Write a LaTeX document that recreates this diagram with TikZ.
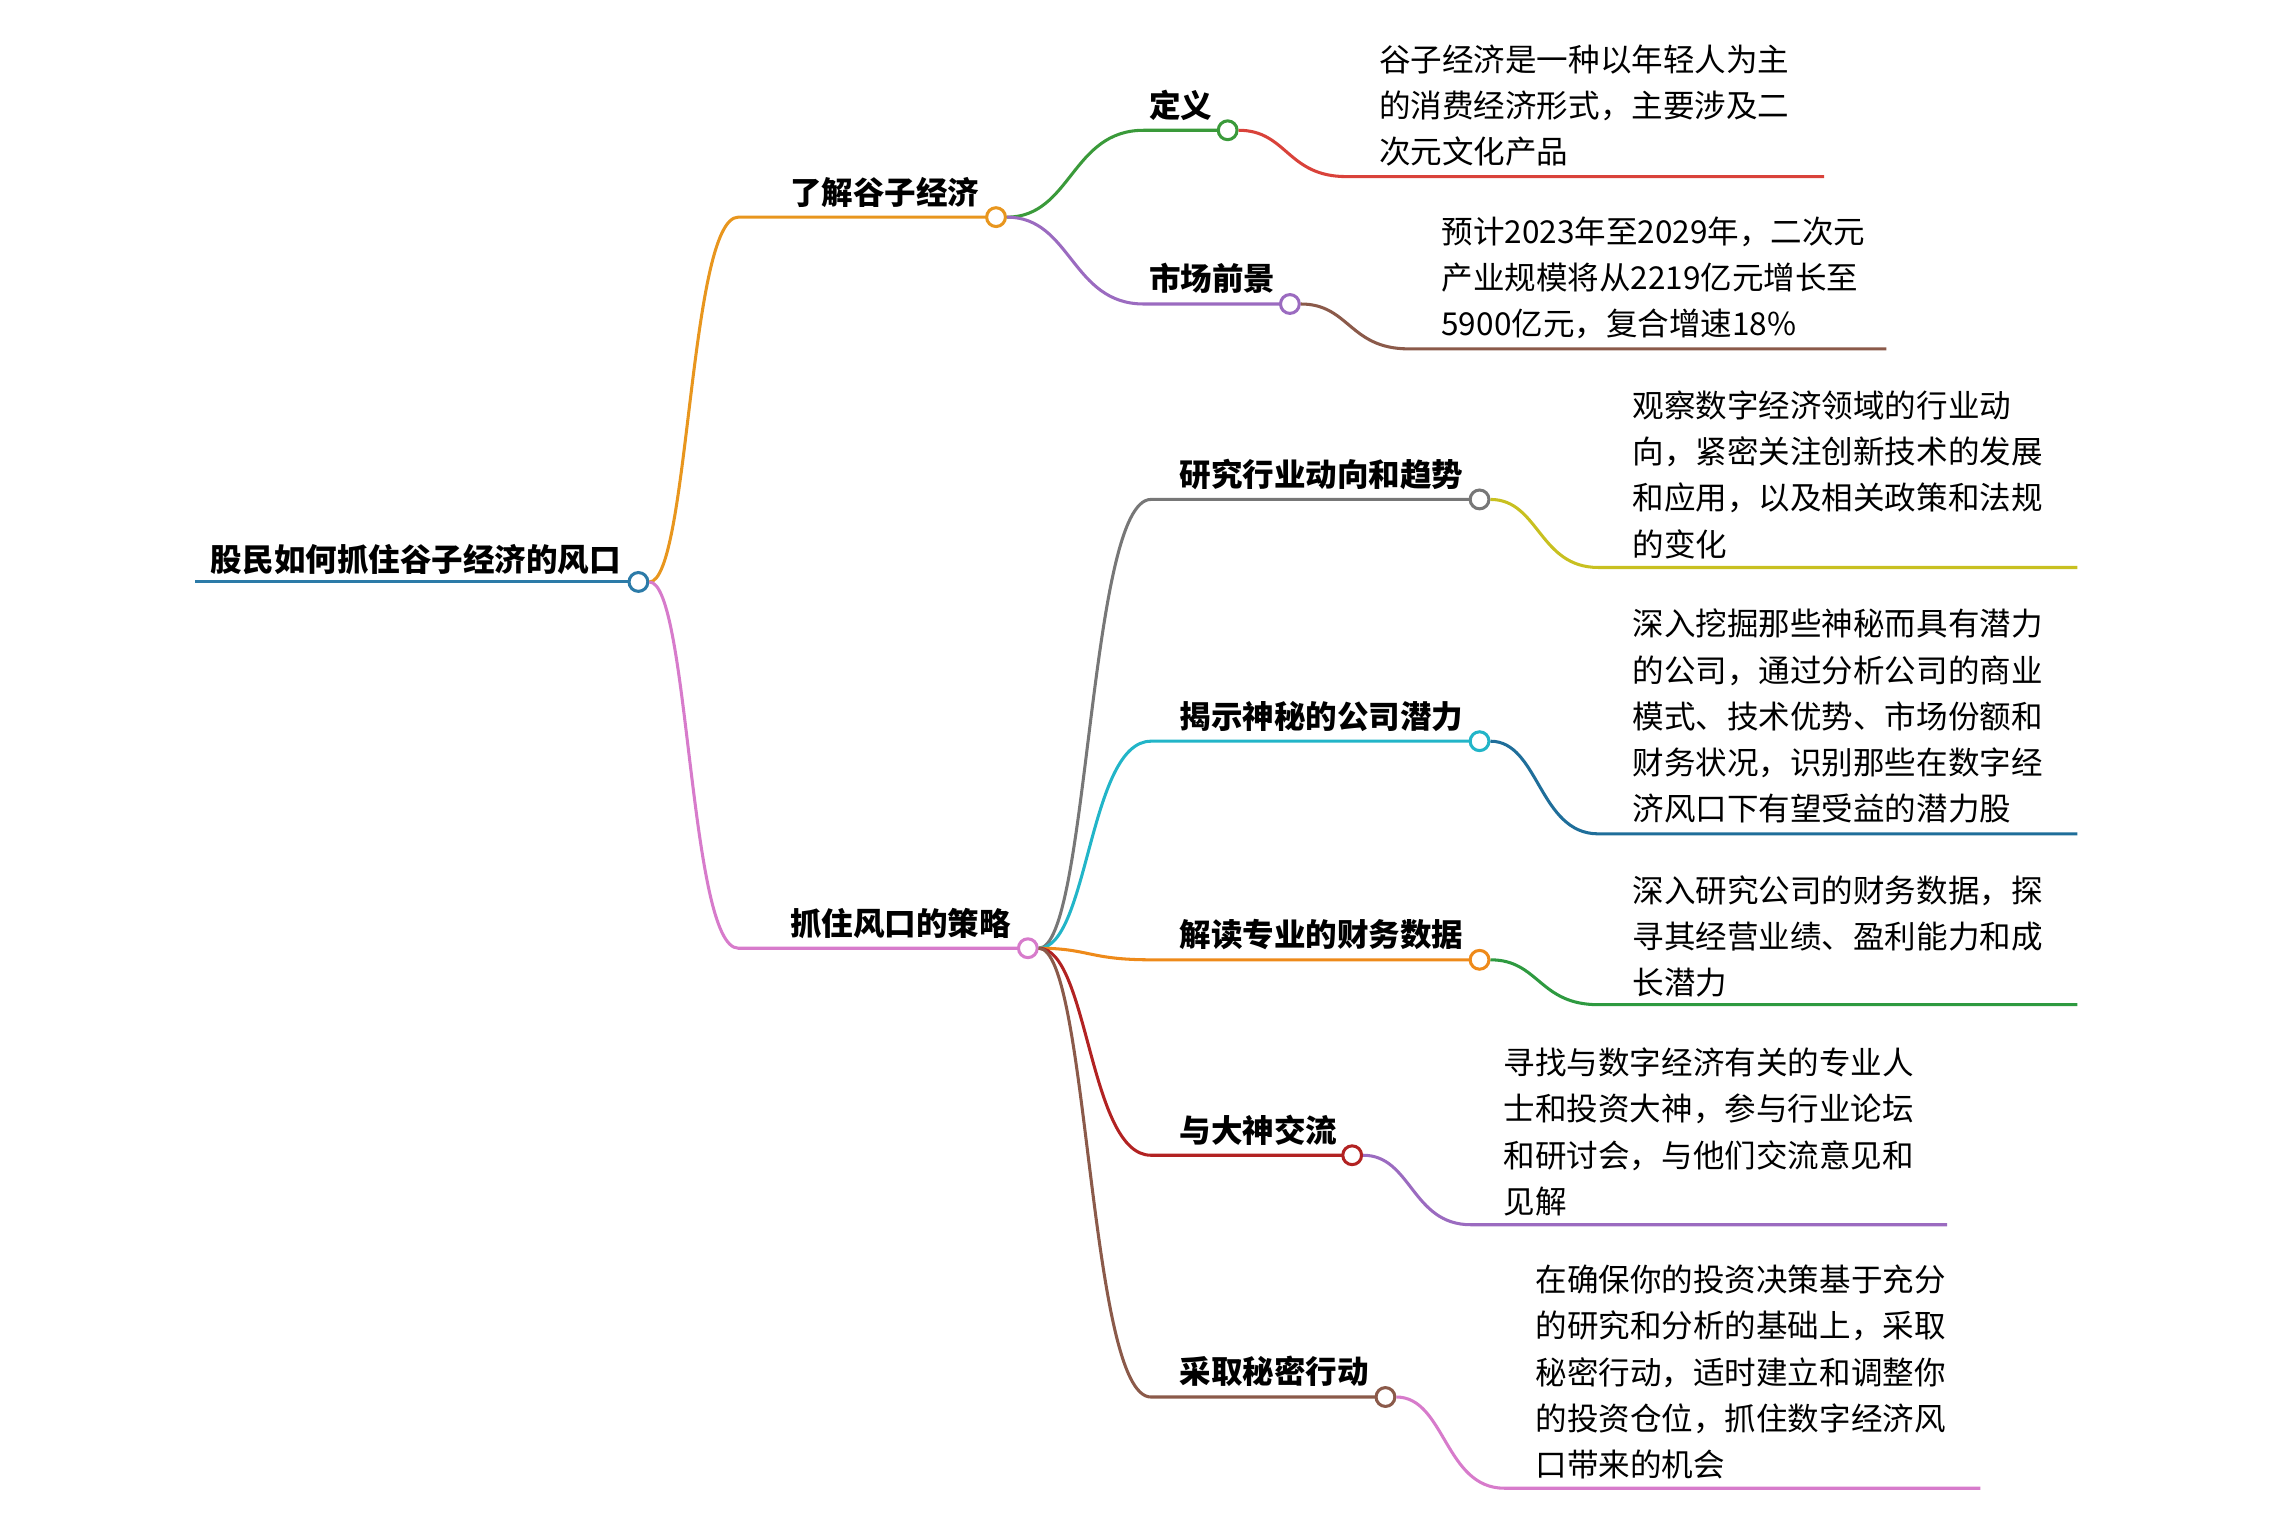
\documentclass[tikz,border=0pt]{standalone}
\usepackage{fontspec}
\setmainfont{Noto Sans CJK SC}
\begin{document}
\begin{tikzpicture}[x=0.1mm,y=-0.1mm,
  lw/.style={line width=0.6pt},
  dot/.style={circle,draw,fill=white,line width=0.6pt,inner sep=0,minimum size=1.3mm},
  lab/.style={font=\bfseries\fontsize{6.2}{7}\selectfont,inner sep=0,anchor=base west},
  leaf/.style={font=\fontsize{6.2}{9.1}\selectfont,inner sep=0,anchor=north west,align=left}]
\useasboundingbox (0,0) rectangle (1568,1054);
\definecolor{cOr}{HTML}{E8961E}\definecolor{cPk}{HTML}{D77BCB}\definecolor{cBl}{HTML}{2C7BA8}
\definecolor{cGr}{HTML}{3A9A3A}\definecolor{cRd}{HTML}{D9423A}\definecolor{cPu}{HTML}{9B6BC0}
\definecolor{cBr}{HTML}{8B5A4A}\definecolor{cGy}{HTML}{777777}\definecolor{cYl}{HTML}{C8C020}
\definecolor{cCy}{HTML}{22B5C8}\definecolor{cTe}{HTML}{1F6E9A}\definecolor{cDr}{HTML}{B22222}
\definecolor{cOr2}{HTML}{EE8A1A}\definecolor{cGr2}{HTML}{2E9A40}
% root
\node[lab] (rt) at (145,395) {股民如何抓住谷子经济的风口};
\draw[lw,cBl] (135,402) -- (441,402);
\node[dot,draw=cBl] (r) at (441,402) {};
% branch 1
\coordinate (b1s) at (510,150);
\draw[lw,cOr] (r) .. controls (476,402) and (476,150) .. (b1s) -- (688,150);
\node[lab] (b1t) at (545,141) {了解谷子经济};
\node[dot,draw=cOr] (b1) at (688,150) {};
% branch 2
\coordinate (b2s) at (510,655);
\draw[lw,cPk] (r) .. controls (476,402) and (476,655) .. (b2s) -- (710,655);
\node[lab] (b2t) at (545,646) {抓住风口的策略};
\node[dot,draw=cPk] (b2) at (710,655) {};
% generic sub
\newcommand\subn[9]{% name, parent, px, py, y, xend, color, label, labelx
  \coordinate (#1s) at (795,#5);
  \draw[lw,#7] (#2) .. controls (752,#4) and (752,#5) .. (#1s) -- (#6,#5);
  \node[lab] (#1t) at (#9,#5-9) {#8};
  \node[dot,draw=#7] (#1) at (#6,#5) {};}
\newcommand\leafn[8]{% name, parent, px, py, uy, xe, color, textx ; text after
  \coordinate (#1a) at (#3+82,#5);
  \coordinate (#1b) at (#6,#5);
  \draw[lw,#7] (#2) .. controls (#3+41,#4) and (#3+41,#5) .. (#1a) -- (#1b);}
% b1 subs
\coordinate (s1s) at (790,90);
\draw[lw,cGr] (b1) .. controls (740,150) and (740,90) .. (s1s) -- (848,90);
\node[lab] (s1t) at (793,81) {定义};
\node[dot,draw=cGr] (s1) at (848,90) {};
\coordinate (s2s) at (790,210);
\draw[lw,cPu] (b1) .. controls (740,150) and (740,210) .. (s2s) -- (891,210);
\node[lab] (s2t) at (793,201) {市场前景};
\node[dot,draw=cPu] (s2) at (891,210) {};
% b2 subs
\subn{t1}{b2}{710}{655}{345}{1022}{cGy}{研究行业动向和趋势}{814}
\subn{t2}{b2}{710}{655}{512}{1022}{cCy}{揭示神秘的公司潜力}{814}
\subn{t3}{b2}{710}{655}{663}{1022}{cOr2}{解读专业的财务数据}{814}
\subn{t4}{b2}{710}{655}{798}{934}{cDr}{与大神交流}{814}
\subn{t5}{b2}{710}{655}{965}{957}{cBr}{采取秘密行动}{814}
% leaves
\leafn{l1}{s1}{848}{90}{122}{1260}{cRd}{}
\node[leaf] (l1x) at (952,30) {谷子经济是一种以年轻人为主\\的消费经济形式，主要涉及二\\次元文化产品};
\leafn{l2}{s2}{891}{210}{241}{1303}{cBr}{}
\node[leaf] (l2x) at (995,149) {预计2023年至2029年，二次元\\产业规模将从2219亿元增长至\\5900亿元，复合增速18\%};
\leafn{l3}{t1}{1022}{345}{392}{1435}{cYl}{}
\node[leaf] (l3x) at (1127,269) {观察数字经济领域的行业动\\向，紧密关注创新技术的发展\\和应用，以及相关政策和法规\\的变化};
\leafn{l4}{t2}{1022}{512}{576}{1435}{cTe}{}
\node[leaf] (l4x) at (1127,420) {深入挖掘那些神秘而具有潜力\\的公司，通过分析公司的商业\\模式、技术优势、市场份额和\\财务状况，识别那些在数字经\\济风口下有望受益的潜力股};
\leafn{l5}{t3}{1022}{663}{694}{1435}{cGr2}{}
\node[leaf] (l5x) at (1127,604) {深入研究公司的财务数据，探\\寻其经营业绩、盈利能力和成\\长潜力};
\leafn{l6}{t4}{934}{798}{846}{1345}{cPu}{}
\node[leaf] (l6x) at (1038,723) {寻找与数字经济有关的专业人\\士和投资大神，参与行业论坛\\和研讨会，与他们交流意见和\\见解};
\leafn{l7}{t5}{957}{965}{1028}{1368}{cPk}{}
\node[leaf] (l7x) at (1060,873) {在确保你的投资决策基于充分\\的研究和分析的基础上，采取\\秘密行动，适时建立和调整你\\的投资仓位，抓住数字经济风\\口带来的机会};
\end{tikzpicture}
\end{document}
